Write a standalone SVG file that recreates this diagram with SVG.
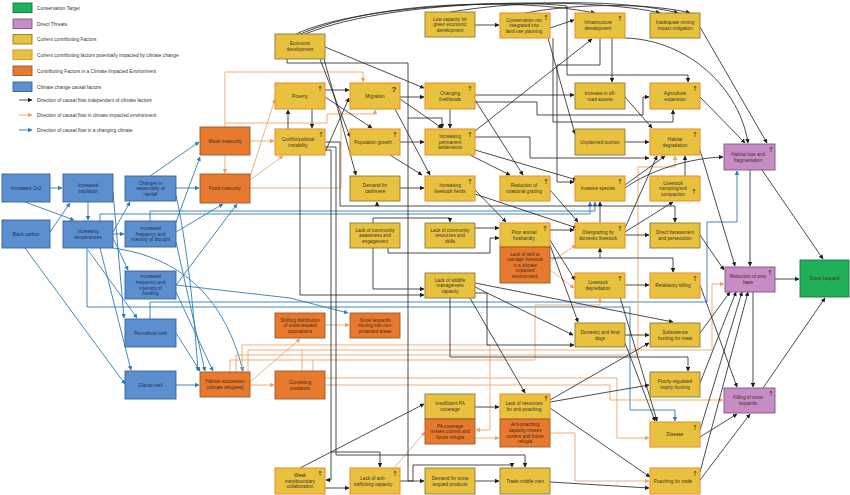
<svg xmlns="http://www.w3.org/2000/svg" width="850" height="495" viewBox="0 0 850 495">
<defs>
<style>
.k{fill:none;stroke:#1e1e1e;stroke-width:.8;marker-end:url(#ak)}
.o{fill:none;stroke:#EBA262;stroke-width:.85;marker-end:url(#ao)}
.b{fill:none;stroke:#2E7CB6;stroke-width:.9;marker-end:url(#ab)}
.nm{marker-end:none}
.ny rect{fill:#E8C23F;stroke:#8C7C34;stroke-width:.9}
.nyo rect{fill:#E8C23F;stroke:#EF902F;stroke-width:1.1}
.no rect{fill:#E87A30;stroke:#9E5828;stroke-width:.9}
.nb rect{fill:#5C8FD0;stroke:#3A5F9A;stroke-width:.9}
.np rect{fill:#C78CC6;stroke:#7E587D;stroke-width:.9}
.ng rect{fill:#20B05A;stroke:#17773B;stroke-width:.9}
text{font-family:"Liberation Sans",Arial,sans-serif;font-size:4.7px;fill:#3a3525;text-anchor:middle}
.nb text{fill:#1f2f55}
.no text{fill:#4a2a10}
.up{font-family:"DejaVu Sans",sans-serif;font-size:7px}
.q{font-size:8px;font-weight:bold}
.lg text{text-anchor:start;font-size:4.8px}
</style>
<marker id="ak" viewBox="0 0 10 10" refX="9" refY="5" markerWidth="4.5" markerHeight="4.5" markerUnits="userSpaceOnUse" orient="auto"><path d="M0,0 L10,5 L0,10 z" fill="#1e1e1e"/></marker>
<marker id="ao" viewBox="0 0 10 10" refX="9" refY="5" markerWidth="4.5" markerHeight="4.5" markerUnits="userSpaceOnUse" orient="auto"><path d="M0,0 L10,5 L0,10 z" fill="#EBA262"/></marker>
<marker id="ab" viewBox="0 0 10 10" refX="9" refY="5" markerWidth="4.5" markerHeight="4.5" markerUnits="userSpaceOnUse" orient="auto"><path d="M0,0 L10,5 L0,10 z" fill="#2E7CB6"/></marker>
</defs>
<rect width="850" height="495" fill="#ffffff"/>

<g id="legend" class="lg">
<g class="ng"><rect x="13" y="3" width="19" height="9.5"/></g><text x="37" y="9.5">Conservation Target</text>
<g class="np"><rect x="13" y="19" width="19" height="9.5"/></g><text x="37" y="25.5">Direct Threats</text>
<g class="ny"><rect x="13" y="34.5" width="19" height="9.5"/></g><text x="37" y="41">Current contributing Factors</text>
<g class="nyo"><rect x="13" y="50" width="19" height="9.5"/></g><text x="37" y="56.5">Current contributing factors potentially impacted by climate change</text>
<g class="no"><rect x="13" y="66" width="19" height="9.5"/></g><text x="37" y="72.5">Contributing Factors in a Climate Impacted Environment</text>
<g class="nb"><rect x="13" y="82" width="19" height="9.5"/></g><text x="37" y="88.5">Climate change causal factors</text>
<path class="k" d="M19,100 H32"/><text x="37" y="101.5">Direction of causal flow independent of climate factors</text>
<path class="o" d="M19,115 H32"/><text x="37" y="116.5">Direction of causal flow in climate impacted environment</text>
<path class="b" d="M19,130 H32"/><text x="37" y="131.5">Direction of causal flow in a changing climate</text>
</g>

<g id="connectors">
<g id="blue">
<path class="b" d="M50,188 H62"/>
<path class="b" d="M50,232 L70,203"/>
<path class="b" d="M25,202 L74,220"/>
<path class="b" d="M88,202 V220"/>
<path class="b" d="M113,232 L130,202"/>
<path class="b" d="M113,234 H124"/>
<path class="b" d="M113,238 L128,270"/>
<path class="b" d="M113,192 L124,318"/>
<path class="b" d="M88,250 L137,318"/>
<path class="b" d="M100,248 L131,370"/>
<path class="b" d="M25,248 L125,384"/>
<path class="b" d="M150,176 L199,142"/>
<path class="b" d="M176,222 L200,157"/>
<path class="b" d="M176,188 H199"/>
<path class="b" d="M176,232 L223,204"/>
<path class="b" d="M176,285 L237,204"/>
<path class="b" d="M100,221 V214 H590 V202"/>
<path class="b" d="M150,221 V211 H595 V202"/>
<path class="b" d="M150,319 V302 H707 V222 H737 V171"/>
<path class="b" d="M87,248 V307 H630 V410 H675 V421"/>
<path class="b" d="M176,285 L290,298 L348,313"/>
<path class="b" d="M176,195 C190,260 195,330 198,371"/>
<path class="b" d="M176,242 L205,371"/>
<path class="b" d="M176,292 L213,371"/>
<path class="b" d="M113,248 C200,260 230,320 243,371"/>
<path class="b" d="M176,333 L200,371"/>
<path class="b" d="M176,385 H199"/>
</g>
<g id="orange">
<path class="o" d="M250,141 H274"/>
<path class="o" d="M225,155 V173"/>
<path class="o" d="M250,180 L283,156"/>
<path class="o" d="M250,177 L275,99"/>
<path class="o" d="M225,127 V72 H363 V82"/>
<path class="o" d="M225,123 H327 V114 H375 V110"/>
<path class="o nm" d="M250,188 H341 V114"/>
<path class="o" d="M248,372 V350 H712 V284 H724"/>
<path class="o" d="M325,378 H617 V438 H649"/>
<path class="o" d="M325,385 H610 V400 H723"/>
<path class="o" d="M230,372 V360 H535 V305 H600 V298"/>
<path class="o" d="M242,372 V345 H490 V430 H476"/>
<path class="o" d="M236,372 V355 H638 V167 H675 V156"/>
<path class="o nm" d="M302,371 V350"/>
<path class="o nm" d="M313,371 V360"/>
<path class="o" d="M475,438 H499"/>
<path class="o" d="M395,467 L425,432"/>
<path class="o" d="M550,433 H575 V481 H649"/>
<path class="o" d="M325,325 H349"/>
<path class="o" d="M250,382 L300,339"/>
<path class="o" d="M250,385 H274"/>
<path class="o" d="M550,262 L576,245"/>
<path class="o" d="M550,270 L574,288"/>
</g>
<g id="black">
<path class="k" d="M475,25 H499"/>
<path class="k" d="M550,28 L574,20"/>
<path class="k" d="M300,34 C380,0 520,-2 595,13"/>
<path class="k" d="M305,34 C400,-4 600,-2 660,13"/>
<path class="k" d="M450,12 C530,-1 630,0 678,13"/>
<path class="k" d="M525,13 C585,2 655,4 690,13"/>
<path class="k" d="M296,34 C360,4 520,0 567,6 V75 H688 V82"/>
<path class="k" d="M325,47 L424,88"/>
<path class="k" d="M287,59 V63 H408 V118 H442 V128"/>
<path class="k" d="M408,118 V481 H424"/>
<path class="k" d="M320,59 L350,137"/>
<path class="k" d="M324,59 L356,175"/>
<path class="k" d="M325,90 H349"/>
<path class="k" d="M325,97 L372,128"/>
<path class="k" d="M312,109 V128"/>
<path class="k" d="M288,129 V110"/>
<path class="k" d="M326,150 L349,98"/>
<path class="k" d="M400,97 H424"/>
<path class="k" d="M400,99 L442,128"/>
<path class="k" d="M395,109 L430,175"/>
<path class="k" d="M450,109 V128"/>
<path class="k" d="M475,100 L523,175"/>
<path class="k" d="M400,142 H424"/>
<path class="k" d="M390,155 L422,175"/>
<path class="k" d="M470,155 L510,175"/>
<path class="k" d="M475,131 L592,39"/>
<path class="k" d="M475,95 H574"/>
<path class="k" d="M475,102 H537 V115 H643 V97 H649"/>
<path class="k" d="M612,38 V82"/>
<path class="k" d="M625,38 C690,40 740,90 748,143"/>
<path class="k" d="M700,27 L767,143"/>
<path class="k" d="M700,97 L745,143"/>
<path class="k" d="M625,97 L652,128"/>
<path class="k" d="M625,142 H649"/>
<path class="k" d="M475,137 H530 V158 H649"/>
<path class="k" d="M475,150 L577,180"/>
<path class="k" d="M553,38 V122 H673 V110"/>
<path class="k" d="M548,38 L575,134"/>
<path class="k" d="M600,38 V65 H557 V182 H574"/>
<path class="k" d="M700,150 L735,266"/>
<path class="k" d="M625,188 C650,170 690,158 723,157"/>
<path class="k" d="M750,170 V266"/>
<path class="k" d="M762,170 L823,259"/>
<path class="k" d="M775,279 H799"/>
<path class="k" d="M763,388 L825,298"/>
<path class="k" d="M700,235 L724,270"/>
<path class="k" d="M700,285 L737,387"/>
<path class="k" d="M700,333 L730,292"/>
<path class="k" d="M700,383 L736,292"/>
<path class="k" d="M700,430 L742,292"/>
<path class="k" d="M700,472 L748,292"/>
<path class="k" d="M700,437 L737,414"/>
<path class="k" d="M700,480 L750,414"/>
<path class="k" d="M753,292 V387"/>
<path class="k" d="M475,190 L506,222"/>
<path class="k" d="M475,194 L577,228"/>
<path class="k" d="M400,188 H424"/>
<path class="k" d="M550,190 L578,222"/>
<path class="k" d="M550,230 H574"/>
<path class="k" d="M550,240 L575,280"/>
<path class="k" d="M550,245 L578,322"/>
<path class="k" d="M550,258 H673 V272"/>
<path class="k" d="M600,258 V248"/>
<path class="k" d="M600,223 V202"/>
<path class="k" d="M625,235 H649"/>
<path class="k" d="M625,232 L673,202"/>
<path class="k" d="M625,228 L657,156"/>
<path class="k" d="M625,185 L665,156"/>
<path class="k" d="M685,176 V156"/>
<path class="k" d="M625,285 H649"/>
<path class="k" d="M475,228 H499"/>
<path class="k" d="M373,223 V218 H450 V222"/>
<path class="k" d="M388,247 V253 H490 V238 H499"/>
<path class="k" d="M373,248 V289 H424"/>
<path class="k" d="M300,155 V295 H424"/>
<path class="k" d="M325,142 H340 V206 H675 V222"/>
<path class="k" d="M377,206 V202"/>
<path class="k" d="M325,147 H336 V455 H525 V467"/>
<path class="k" d="M325,150 H331 V480 H326"/>
<path class="k" d="M331,452 H380 V467"/>
<path class="k" d="M470,298 L525,393"/>
<path class="k" d="M475,287 L573,335"/>
<path class="k" d="M475,283 L673,322"/>
<path class="k" d="M450,298 V357 H688 V371"/>
<path class="k" d="M475,293 H487 V345 H574"/>
<path class="k" d="M550,402 L649,385"/>
<path class="k" d="M550,400 L649,343"/>
<path class="k" d="M550,408 L650,477"/>
<path class="k" d="M550,482 L649,488"/>
<path class="k" d="M475,407 H499"/>
<path class="k" d="M300,468 L424,404"/>
<path class="k" d="M325,488 H349"/>
<path class="k" d="M475,481 H499"/>
<path class="k" d="M400,481 H413 V465 H512 V467"/>
<path class="k" d="M625,343 L655,421"/>
<path class="k" d="M620,297 L657,421"/>
<path class="k" d="M625,335 H649"/>
</g>
</g>

<g id="nodes">
<g id="n-econ" class="ny"><rect x="275" y="34" width="50" height="25"/><text x="300" y="45.4">Economic</text><text x="300" y="51">development</text></g>
<g id="n-lowcap" class="ny"><rect x="425" y="12" width="50" height="25"/><text x="450" y="20.6">Low capacity for</text><text x="450" y="26.2">green economic</text><text x="450" y="31.8">development</text></g>
<g id="n-consnot" class="nyo"><rect x="500" y="13" width="50" height="25"/><text x="524" y="21.6">Conservation not</text><text x="524" y="27.2">integrated into</text><text x="524" y="32.8">land use planning</text><text class="up" x="546" y="20">↑</text></g>
<g id="n-infra" class="nyo"><rect x="575" y="13" width="50" height="25"/><text x="598" y="24.4">Infrastructure</text><text x="598" y="30">development</text><text class="up" x="620" y="21">↑</text></g>
<g id="n-mining" class="ny"><rect x="650" y="13" width="50" height="25"/><text x="675" y="24.4">Inadequate mining</text><text x="675" y="30">impact mitigation</text></g>
<g id="n-poverty" class="nyo"><rect x="275" y="83" width="50" height="26"/><text x="300" y="97.7">Poverty</text><text class="up" x="320" y="91">↑</text></g>
<g id="n-migration" class="nyo"><rect x="350" y="83" width="50" height="26"/><text x="375" y="97.7">Migration</text><text class="q" x="394" y="92">?</text></g>
<g id="n-changliv" class="nyo"><rect x="425" y="83" width="50" height="26"/><text x="450" y="94.9">Changing</text><text x="450" y="100.5">livelihoods</text><text class="up" x="470" y="91">↑</text></g>
<g id="n-offroad" class="ny"><rect x="575" y="83" width="50" height="26"/><text x="600" y="94.9">Increase in off-</text><text x="600" y="100.5">road access</text></g>
<g id="n-agri" class="nyo"><rect x="650" y="83" width="50" height="26"/><text x="675" y="94.9">Agriculture</text><text x="675" y="100.5">expansion</text><text class="up" x="695" y="91">↑</text></g>
<g id="n-conflict" class="nyo"><rect x="275" y="129" width="50" height="26"/><text x="298" y="140.9">Conflict/political</text><text x="298" y="146.5">instability</text><text class="up" x="321" y="137">↑</text></g>
<g id="n-popgrowth" class="nyo"><rect x="350" y="129" width="50" height="26"/><text x="373" y="143.7">Population growth</text><text class="up" x="395" y="137">↑</text></g>
<g id="n-permset" class="nyo"><rect x="425" y="129" width="50" height="26"/><text x="450" y="138.1">Increasing</text><text x="450" y="143.7">permanent</text><text x="450" y="149.3">settlements</text><text class="up" x="470" y="137">↑</text></g>
<g id="n-tourism" class="ny"><rect x="575" y="129" width="50" height="26"/><text x="600" y="143.7">Unplanned tourism</text></g>
<g id="n-habdeg" class="nyo"><rect x="650" y="129" width="50" height="26"/><text x="675" y="140.9">Habitat</text><text x="675" y="146.5">degradation</text><text class="up" x="695" y="137">↑</text></g>
<g id="n-habloss" class="np"><rect x="724" y="144" width="51" height="26"/><text x="748" y="155.9">Habitat loss and</text><text x="748" y="161.5">fragmentation</text><text class="up" x="771" y="152">↑</text></g>
<g id="n-water" class="no"><rect x="200" y="127" width="50" height="28"/><text x="225" y="142.7">Water insecurity</text></g>
<g id="n-food" class="no"><rect x="200" y="174" width="50" height="29"/><text x="225" y="190.2">Food insecurity</text></g>
<g id="n-co2" class="nb"><rect x="2" y="174" width="48" height="28"/><text x="26" y="189.7">Increased Co2</text></g>
<g id="n-insol" class="nb"><rect x="63" y="174" width="50" height="28"/><text x="88" y="186.9">Increased</text><text x="88" y="192.5">insolation</text></g>
<g id="n-blackc" class="nb"><rect x="2" y="220" width="48" height="28"/><text x="26" y="235.7">Black carbon</text></g>
<g id="n-temps" class="nb"><rect x="63" y="221" width="50" height="27"/><text x="88" y="233.4">Increasing</text><text x="88" y="239">temperatures</text></g>
<g id="n-season" class="nb"><rect x="125" y="176" width="51" height="25"/><text x="150.5" y="184.6">Changes in</text><text x="150.5" y="190.2">seasonality of</text><text x="150.5" y="195.8">rainfall</text></g>
<g id="n-drought" class="nb"><rect x="125" y="221" width="51" height="26"/><text x="150.5" y="230.1">Increased</text><text x="150.5" y="235.7">frequency and</text><text x="150.5" y="241.3">intensity of drought</text></g>
<g id="n-flood" class="nb"><rect x="125" y="271" width="51" height="28"/><text x="150.5" y="278.3">Increased</text><text x="150.5" y="283.9">frequency and</text><text x="150.5" y="289.5">intensity of</text><text x="150.5" y="295.1">flooding</text></g>
<g id="n-permafrost" class="nb"><rect x="125" y="319" width="51" height="28"/><text x="150.5" y="334.7">Permafrost melt</text></g>
<g id="n-glacial" class="nb"><rect x="125" y="371" width="51" height="28"/><text x="150.5" y="386.7">Glacial melt</text></g>
<g id="n-habsucc" class="no"><rect x="200" y="372" width="50" height="25"/><text x="225" y="383.4">Habitat succession</text><text x="225" y="389">(climate refugees)</text></g>
<g id="n-shifting" class="no"><rect x="275" y="313" width="50" height="25"/><text x="300" y="321.6">Shifting distribution</text><text x="300" y="327.2">of snow leopard</text><text x="300" y="332.8">populations</text></g>
<g id="n-slmoving" class="no"><rect x="350" y="313" width="50" height="25"/><text x="375" y="321.6">Snow leopards</text><text x="375" y="327.2">moving into non-</text><text x="375" y="332.8">protected areas</text></g>
<g id="n-competing" class="no"><rect x="275" y="371" width="50" height="28"/><text x="300" y="383.9">Competing</text><text x="300" y="389.5">predators</text></g>
<g id="n-cashmere" class="ny"><rect x="350" y="176" width="50" height="25"/><text x="375" y="187.4">Demand for</text><text x="375" y="193">cashmere</text></g>
<g id="n-herds" class="nyo"><rect x="425" y="176" width="50" height="25"/><text x="450" y="187.4">Increasing</text><text x="450" y="193">livestock herds</text><text class="up" x="470" y="184">↑</text></g>
<g id="n-rotgraz" class="nyo"><rect x="500" y="176" width="50" height="25"/><text x="524" y="187.4">Reduction of</text><text x="524" y="193">rotational grazing</text><text class="up" x="546" y="184">↑</text></g>
<g id="n-invasive" class="nyo"><rect x="575" y="176" width="50" height="25"/><text x="598" y="190.2">Invasive species</text><text class="up" x="620" y="184">↑</text></g>
<g id="n-trampling" class="nyo"><rect x="650" y="176" width="50" height="25"/><text x="673" y="184.6">Livestock</text><text x="673" y="190.2">trampling/soil</text><text x="673" y="195.8">compaction</text><text class="up" x="694" y="194">↑</text></g>
<g id="n-awareness" class="ny"><rect x="350" y="223" width="50" height="25"/><text x="375" y="231.6">Lack of community</text><text x="375" y="237.2">awareness and</text><text x="375" y="242.8">engagement</text></g>
<g id="n-resources" class="ny"><rect x="425" y="223" width="50" height="25"/><text x="450" y="231.6">Lack of community</text><text x="450" y="237.2">resources and</text><text x="450" y="242.8">skills</text></g>
<g id="n-husbandry" class="nyo"><rect x="500" y="223" width="50" height="24"/><text x="524" y="233.9">Poor animal</text><text x="524" y="239.5">husbandry</text><text class="up" x="545" y="231">↑</text></g>
<g id="n-lackskill" class="no"><rect x="500" y="247" width="50" height="36"/><text x="525" y="255.5">Lack of skill to</text><text x="525" y="261.1">manage livestock</text><text x="525" y="266.7">in a climate</text><text x="525" y="272.3">impacted</text><text x="525" y="277.9">environment</text></g>
<g id="n-overgraz" class="nyo"><rect x="575" y="223" width="50" height="25"/><text x="598" y="234.4">Overgrazing by</text><text x="598" y="240">domestic livestock</text><text class="up" x="620" y="231">↑</text></g>
<g id="n-harass" class="ny"><rect x="650" y="223" width="50" height="25"/><text x="675" y="234.4">Direct harassment</text><text x="675" y="240">and persecution</text></g>
<g id="n-prey" class="np"><rect x="725" y="267" width="50" height="25"/><text x="748" y="278.4">Reduction of prey</text><text x="748" y="284">base</text><text class="up" x="770" y="275">↑</text></g>
<g id="n-snowleopard" class="ng"><rect x="800" y="260" width="49" height="37"/><text x="824.5" y="280.2">Snow Leopard</text></g>
<g id="n-wildlife" class="ny"><rect x="425" y="273" width="50" height="25"/><text x="450" y="281.6">Lack of wildlife</text><text x="450" y="287.2">management</text><text x="450" y="292.8">capacity</text></g>
<g id="n-depred" class="nyo"><rect x="575" y="273" width="50" height="25"/><text x="598" y="284.4">Livestock</text><text x="598" y="290">depredation</text><text class="up" x="620" y="281">↑</text></g>
<g id="n-retal" class="nyo"><rect x="650" y="273" width="50" height="25"/><text x="673" y="287.2">Retaliatory killing</text><text class="up" x="695" y="281">↑</text></g>
<g id="n-dogs" class="ny"><rect x="575" y="323" width="50" height="24"/><text x="600" y="333.9">Domestic and feral</text><text x="600" y="339.5">dogs</text></g>
<g id="n-subsist" class="ny"><rect x="650" y="323" width="50" height="24"/><text x="675" y="333.9">Subsistence</text><text x="675" y="339.5">hunting for meat</text></g>
<g id="n-trophy" class="ny"><rect x="650" y="372" width="50" height="25"/><text x="675" y="383.4">Poorly-regulated</text><text x="675" y="389">trophy hunting</text></g>
<g id="n-killing" class="np"><rect x="724" y="388" width="51" height="25"/><text x="748" y="399.4">Killing of snow</text><text x="748" y="405">leopards</text><text class="up" x="771" y="396">↑</text></g>
<g id="n-disease" class="nyo"><rect x="650" y="422" width="50" height="25"/><text x="675" y="436.2">Disease</text><text class="up" x="695" y="430">↑</text></g>
<g id="n-poaching" class="nyo"><rect x="650" y="468" width="50" height="26"/><text x="673" y="482.7">Poaching for trade</text><text class="up" x="695" y="476">↑</text></g>
<g id="n-pacov" class="ny"><rect x="425" y="394" width="50" height="25"/><text x="450" y="405.4">Insufficient PA</text><text x="450" y="411">coverage</text></g>
<g id="n-pamiss" class="no"><rect x="425" y="419" width="50" height="25"/><text x="450" y="427.6">PA coverage</text><text x="450" y="433.2">misses current and</text><text x="450" y="438.8">future refugia</text></g>
<g id="n-antipoach" class="nyo"><rect x="500" y="394" width="50" height="25"/><text x="524" y="405.4">Lack of resources</text><text x="524" y="411">for anti-poaching</text><text class="up" x="546" y="401">↑</text></g>
<g id="n-apmiss" class="no"><rect x="500" y="419" width="50" height="28"/><text x="525" y="426.3">Anti-poaching</text><text x="525" y="431.9">capacity misses</text><text x="525" y="437.5">current and future</text><text x="525" y="443.1">refugia</text></g>
<g id="n-weak" class="nyo"><rect x="275" y="468" width="50" height="26"/><text x="300" y="477.1">Weak</text><text x="300" y="482.7">transboundary</text><text x="300" y="488.3">collaboration</text><text class="up" x="320" y="476">↑</text></g>
<g id="n-antitraf" class="nyo"><rect x="350" y="468" width="50" height="26"/><text x="373" y="479.9">Lack of anti-</text><text x="373" y="485.5">trafficking capacity</text><text class="up" x="395" y="476">↑</text></g>
<g id="n-demandsl" class="ny"><rect x="425" y="468" width="50" height="26"/><text x="450" y="479.9">Demand for snow</text><text x="450" y="485.5">leopard products</text></g>
<g id="n-middlemen" class="ny"><rect x="500" y="468" width="50" height="26"/><text x="525" y="482.7">Trade middle men</text></g>
</g>
</svg>
